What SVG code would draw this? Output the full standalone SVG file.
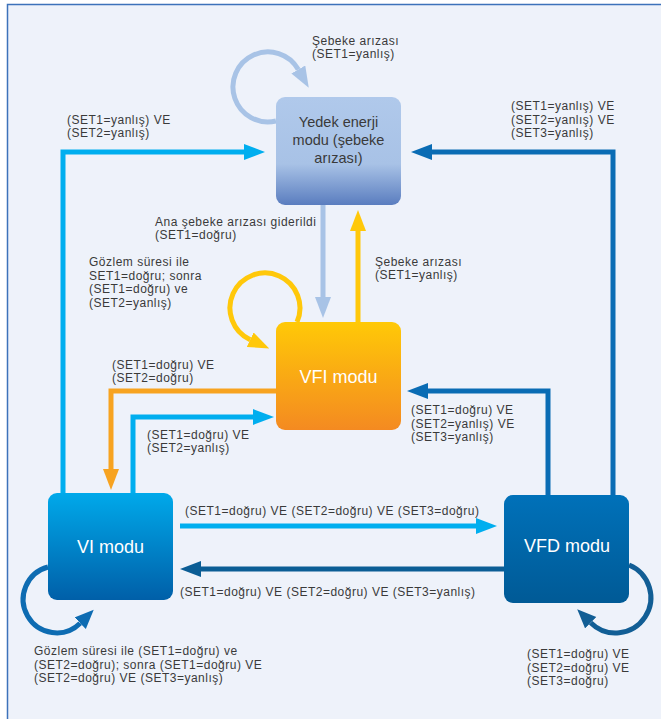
<svg xmlns="http://www.w3.org/2000/svg" width="661" height="719" viewBox="0 0 661 719">
<style>
  .lbl { font-family: "Liberation Sans", Arial, sans-serif; font-size: 12px; letter-spacing: 0.5px; fill: #3a3a3a; }
  .title { font-family: "Liberation Sans", Arial, sans-serif; font-size: 18px; fill: #ffffff; text-anchor: middle; }
  .ytitle { font-family: "Liberation Sans", Arial, sans-serif; font-size: 14.5px; fill: #3a3a3a; text-anchor: middle; }
  .ln { fill: none; stroke-width: 5; stroke-linejoin: miter; }
</style>
<defs>
  <linearGradient id="gY" x1="0" y1="0" x2="0" y2="1">
    <stop offset="0" stop-color="#b0c9eb"/>
    <stop offset="0.62" stop-color="#a8c2e6"/>
    <stop offset="1" stop-color="#5a7dbf"/>
  </linearGradient>
  <linearGradient id="gF" x1="0" y1="0" x2="0" y2="1">
    <stop offset="0" stop-color="#ffc907"/>
    <stop offset="1" stop-color="#f48a21"/>
  </linearGradient>
  <linearGradient id="gI" x1="0" y1="0" x2="0" y2="1">
    <stop offset="0" stop-color="#00a9ea"/>
    <stop offset="1" stop-color="#005fa8"/>
  </linearGradient>
  <linearGradient id="gD" x1="0" y1="0" x2="0" y2="1">
    <stop offset="0" stop-color="#0071b9"/>
    <stop offset="1" stop-color="#005a96"/>
  </linearGradient>
  <marker id="aLB" markerUnits="userSpaceOnUse" markerWidth="21" markerHeight="17" refX="0" refY="8" orient="auto"><path d="M0,0 L21,8 L0,16 z" fill="#a8c3e6"/></marker>
  <marker id="aYe" markerUnits="userSpaceOnUse" markerWidth="21" markerHeight="17" refX="0" refY="8" orient="auto"><path d="M0,0 L21,8 L0,16 z" fill="#ffc80a"/></marker>
  <marker id="aCy" markerUnits="userSpaceOnUse" markerWidth="21" markerHeight="17" refX="0" refY="8" orient="auto"><path d="M0,0 L21,8 L0,16 z" fill="#00aeef"/></marker>
  <marker id="aDB" markerUnits="userSpaceOnUse" markerWidth="21" markerHeight="17" refX="0" refY="8" orient="auto"><path d="M0,0 L21,8 L0,16 z" fill="#0a6cb4"/></marker>
  <marker id="aOr" markerUnits="userSpaceOnUse" markerWidth="21" markerHeight="17" refX="0" refY="8" orient="auto"><path d="M0,0 L21,8 L0,16 z" fill="#f7a320"/></marker>
  <marker id="aNv" markerUnits="userSpaceOnUse" markerWidth="21" markerHeight="17" refX="0" refY="8" orient="auto"><path d="M0,0 L21,8 L0,16 z" fill="#0b5d95"/></marker>
  <marker id="aVI" markerUnits="userSpaceOnUse" markerWidth="21" markerHeight="17" refX="0" refY="8" orient="auto"><path d="M0,0 L19,8 L0,16 z" fill="#0e6cb2"/></marker>
  <marker id="aVD" markerUnits="userSpaceOnUse" markerWidth="21" markerHeight="17" refX="0" refY="8" orient="auto"><path d="M0,0 L19,8 L0,16 z" fill="#125e95"/></marker>
</defs>
<rect x="0" y="0" width="661" height="719" fill="#ffffff"/>
<rect x="7.5" y="4.5" width="700" height="800" fill="#eef2fa" stroke="#3d72ba" stroke-width="1.5"/>

<g id="connectors">
  <path class="ln" stroke="#a8c3e6" marker-end="url(#aLB)" d="M276,121 A35,35 0 1 1 298.3,69.5"/>
  <path class="ln" stroke="#a8c3e6" marker-end="url(#aLB)" d="M323,205 V297"/>
  <path class="ln" stroke="#ffc80a" marker-end="url(#aYe)" d="M358,322 V231"/>
  <path class="ln" stroke="#ffc80a" marker-end="url(#aYe)" d="M297,322 A35,35 0 1 0 250.2,339.7"/>
  <path class="ln" stroke="#00aeef" marker-end="url(#aCy)" d="M63,493 V152 H244"/>
  <path class="ln" stroke="#0a6cb4" marker-end="url(#aDB)" d="M613,495 V152 H432"/>
  <path class="ln" stroke="#f7a320" marker-end="url(#aOr)" d="M276,391 H111 V469"/>
  <path class="ln" stroke="#00aeef" marker-end="url(#aCy)" d="M133,493 V417 H253"/>
  <path class="ln" stroke="#0a6cb4" marker-end="url(#aDB)" d="M548,495 V391 H428"/>
  <path class="ln" stroke="#00aeef" marker-end="url(#aCy)" d="M180,526 H476"/>
  <path class="ln" stroke="#0b5d95" marker-end="url(#aNv)" d="M504,569 H201"/>
  <path class="ln" stroke="#0e6cb2" marker-end="url(#aVI)" d="M48,567 A33.5,33.5 0 1 0 80.2,623.2"/>
  <path class="ln" stroke="#125e95" marker-end="url(#aVD)" d="M629,565 A35.3,35.3 0 1 1 590.7,622.7"/>
</g>

<g id="node-yedek">
  <rect x="276" y="97" width="125" height="108" rx="9" fill="url(#gY)"/>
  <text class="ytitle" x="338.5" y="127">Yedek enerji</text>
  <text class="ytitle" x="338.5" y="145">modu (şebeke</text>
  <text class="ytitle" x="338.5" y="163">arızası)</text>
</g>
<g id="node-vfi">
  <rect x="276" y="322" width="125" height="108" rx="9" fill="url(#gF)"/>
  <text class="title" x="338.5" y="383">VFI modu</text>
</g>
<g id="node-vi">
  <rect x="48" y="493" width="125" height="107" rx="9" fill="url(#gI)"/>
  <text class="title" x="110.5" y="553">VI modu</text>
</g>
<g id="node-vfd">
  <rect x="504" y="495" width="125" height="108" rx="9" fill="url(#gD)"/>
  <text class="title" x="567" y="552">VFD modu</text>
</g>

<g id="labels">
  <text class="lbl"><tspan x="312" y="44.5">Şebeke arızası</tspan><tspan x="312" y="58">(SET1=yanlış)</tspan></text>
  <text class="lbl"><tspan x="67" y="123.5">(SET1=yanlış) VE</tspan><tspan x="67" y="137">(SET2=yanlış)</tspan></text>
  <text class="lbl"><tspan x="511" y="110">(SET1=yanlış) VE</tspan><tspan x="511" y="123.5">(SET2=yanlış) VE</tspan><tspan x="511" y="137">(SET3=yanlış)</tspan></text>
  <text class="lbl"><tspan x="155" y="225.5">Ana şebeke arızası giderildi</tspan><tspan x="155" y="239">(SET1=doğru)</tspan></text>
  <text class="lbl"><tspan x="375" y="265.5">Şebeke arızası</tspan><tspan x="375" y="279">(SET1=yanlış)</tspan></text>
  <text class="lbl"><tspan x="89" y="266">Gözlem süresi ile</tspan><tspan x="89" y="279.5">SET1=doğru; sonra</tspan><tspan x="89" y="293">(SET1=doğru) ve</tspan><tspan x="89" y="306.5">(SET2=yanlış)</tspan></text>
  <text class="lbl"><tspan x="112" y="368.5">(SET1=doğru) VE</tspan><tspan x="112" y="382">(SET2=doğru)</tspan></text>
  <text class="lbl"><tspan x="411" y="414">(SET1=doğru) VE</tspan><tspan x="411" y="427.5">(SET2=yanlış) VE</tspan><tspan x="411" y="441">(SET3=yanlış)</tspan></text>
  <text class="lbl"><tspan x="147" y="438.5">(SET1=doğru) VE</tspan><tspan x="147" y="452">(SET2=yanlış)</tspan></text>
  <text class="lbl" x="185" y="515">(SET1=doğru) VE (SET2=doğru) VE (SET3=doğru)</text>
  <text class="lbl" x="180" y="596">(SET1=doğru) VE (SET2=doğru) VE (SET3=yanlış)</text>
  <text class="lbl"><tspan x="34" y="655">Gözlem süresi ile (SET1=doğru) ve</tspan><tspan x="34" y="668.5">(SET2=doğru); sonra (SET1=doğru) VE</tspan><tspan x="34" y="682">(SET2=doğru) VE (SET3=yanlış)</tspan></text>
  <text class="lbl"><tspan x="527" y="658">(SET1=doğru) VE</tspan><tspan x="527" y="671.5">(SET2=doğru) VE</tspan><tspan x="527" y="685">(SET3=doğru)</tspan></text>
</g>
</svg>
